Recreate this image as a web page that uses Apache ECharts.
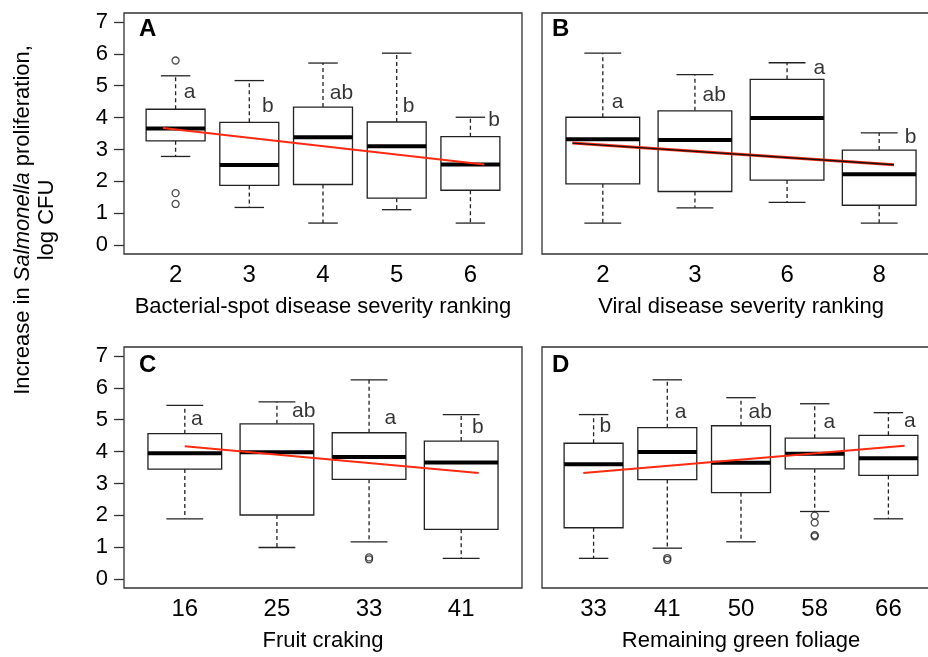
<!DOCTYPE html>
<html>
<head>
<meta charset="utf-8">
<script src="https://cdn.jsdelivr.net/npm/echarts@6/dist/echarts.min.js"></script>
<style>
  html, body { margin: 0; padding: 0; background: #fff; }
  #plot { width: 928px; height: 657px; }
</style>
</head>
<body>
<div id="plot"></div>
<script>
var myPlot = echarts.init(document.getElementById('plot'));

// each box: [lower whisker, Q1, median, Q3, upper whisker]
var catsA = ['2', '3', '4', '5', '6'];
var boxesA = [
  [2.78, 3.27, 3.66, 4.26, 5.31],
  [1.18, 1.87, 2.51, 3.85, 5.16],
  [0.69, 1.90, 3.38, 4.33, 5.71],
  [1.11, 1.47, 3.10, 3.86, 6.02],
  [0.69, 1.72, 2.53, 3.40, 4.01]
];
var outliersA = [[1, 5.79], [1, 1.63], [1, 1.29]];
var trendA = [[0.83, 3.67], [5.19, 2.53]];
var lettersA = ['a', 'b', 'ab', 'b', 'b'];
var letterAtA = [[1.19, 4.79], [2.25, 4.35], [3.25, 4.76], [4.16, 4.35], [5.32, 3.91]];

var catsB = ['2', '3', '6', '8'];
var boxesB = [
  [0.69, 1.92, 3.32, 4.01, 6.02],
  [1.17, 1.68, 3.30, 4.21, 5.35],
  [1.34, 2.04, 3.99, 5.20, 5.72],
  [0.69, 1.25, 2.22, 2.98, 3.52]
];
var outliersB = [];
var trendB = [[0.67, 3.20], [4.16, 2.52]];
var lettersB = ['a', 'ab', 'a', 'b'];
var letterAtB = [[1.16, 4.47], [2.21, 4.71], [3.35, 5.55], [4.34, 3.38]];

var catsC = ['16', '25', '33', '41'];
var boxesC = [
  [1.89, 3.45, 3.95, 4.56, 5.45],
  [0.99, 2.01, 3.98, 4.87, 5.56],
  [1.17, 3.13, 3.83, 4.59, 6.25],
  [0.65, 1.56, 3.66, 4.33, 5.16]
];
var outliersC = [[3, 0.62], [3, 0.68]];
var trendC = [[1.0, 4.17], [4.19, 3.33]];
var lettersC = ['a', 'ab', 'a', 'b'];
var letterAtC = [[1.13, 5.03], [2.29, 5.27], [3.23, 5.06], [4.18, 4.75]];

var catsD = ['33', '41', '50', '58', '66'];
var boxesD = [
  [0.65, 1.61, 3.60, 4.26, 5.16],
  [0.97, 3.12, 3.99, 4.75, 6.25],
  [1.17, 2.71, 3.65, 4.81, 5.69],
  [2.12, 3.46, 3.93, 4.42, 5.50],
  [1.89, 3.25, 3.79, 4.51, 5.22]
];
var outliersD = [[2, 0.60], [2, 0.66], [4, 1.99], [4, 1.77], [4, 1.38], [4, 1.34]];
var trendD = [[0.86, 3.33], [5.22, 4.18]];
var lettersD = ['b', 'a', 'ab', 'a', 'a'];
var letterAtD = [[1.16, 4.78], [2.18, 5.24], [3.26, 5.24], [4.20, 4.91], [5.29, 4.96]];

var yTicks = [0, 1, 2, 3, 4, 5, 6, 7];
var FONT = 'Liberation Sans, Arial, sans-serif';

var panels = [
  { cats: catsA, boxes: boxesA, out: outliersA, trend: trendA, letters: lettersA, at: letterAtA,
    name: 'Bacterial-spot disease severity ranking', left: 124, top: 13, yLabels: true },
  { cats: catsB, boxes: boxesB, out: outliersB, trend: trendB, letters: lettersB, at: letterAtB,
    name: 'Viral disease severity ranking', left: 542, top: 13, yLabels: false, blackTrend: true },
  { cats: catsC, boxes: boxesC, out: outliersC, trend: trendC, letters: lettersC, at: letterAtC,
    name: 'Fruit craking', left: 124, top: 347, yLabels: true },
  { cats: catsD, boxes: boxesD, out: outliersD, trend: trendD, letters: lettersD, at: letterAtD,
    name: 'Remaining green foliage', left: 542, top: 347, yLabels: false }
];

function renderBox(params, api) {
  var x = api.value(0);
  var lo = api.coord([x, api.value(1)]);
  var q1 = api.coord([x, api.value(2)]);
  var md = api.coord([x, api.value(3)]);
  var q3 = api.coord([x, api.value(4)]);
  var hi = api.coord([x, api.value(5)]);
  var half = api.size([0.4, 0])[0];
  var cap = api.size([0.2, 0])[0];
  var cx = lo[0];
  var thin = { stroke: '#222', lineWidth: 1.3 };
  var dash = { stroke: '#222', lineWidth: 1.3, lineDash: [4, 3] };
  return {
    type: 'group',
    children: [
      { type: 'line', shape: { x1: cx, y1: q3[1], x2: cx, y2: hi[1] }, style: dash },
      { type: 'line', shape: { x1: cx, y1: q1[1], x2: cx, y2: lo[1] }, style: dash },
      { type: 'line', shape: { x1: cx - cap, y1: hi[1], x2: cx + cap, y2: hi[1] }, style: thin },
      { type: 'line', shape: { x1: cx - cap, y1: lo[1], x2: cx + cap, y2: lo[1] }, style: thin },
      { type: 'rect', shape: { x: cx - half, y: q3[1], width: 2 * half, height: q1[1] - q3[1] },
        style: { fill: '#fff', stroke: '#222', lineWidth: 1.3 } },
      { type: 'line', shape: { x1: cx - half, y1: md[1], x2: cx + half, y2: md[1] },
        style: { stroke: '#000', lineWidth: 4 } }
    ]
  };
}

var grids = [], xAxes = [], yAxes = [], series = [];
panels.forEach(function (p, i) {
  var n = p.cats.length;
  var pad = n * 0.04;   // R-style 4% axis extension around 0.5 .. n+0.5
  grids.push({ left: p.left, top: p.top, width: 398, height: 241, show: true,
    borderColor: '#333', borderWidth: 1.3, backgroundColor: '#fff',
    containLabel: false, outerBoundsMode: 'none' });
  xAxes.push({
    type: 'value', gridIndex: i, min: 0.5 - pad, max: n + 0.5 + pad,
    axisLine: { show: false }, axisTick: { show: false }, splitLine: { show: false },
    axisLabel: {
      customValues: p.cats.map(function (c, k) { return k + 1; }),
      formatter: function (v) { return p.cats[Math.round(v) - 1]; },
      fontSize: 24, color: '#000', margin: 9, fontFamily: FONT
    },
    name: p.name, nameLocation: 'middle', nameGap: 42,
    nameTextStyle: { fontSize: 22, color: '#000', fontFamily: FONT }
  });
  yAxes.push({
    type: 'value', gridIndex: i, min: -0.28, max: 7.28,
    axisLine: { show: false }, splitLine: { show: false },
    axisTick: { show: p.yLabels, customValues: yTicks, length: 10, lineStyle: { color: '#333', width: 1.3 } },
    axisLabel: { show: p.yLabels, customValues: yTicks, fontSize: 22, color: '#000', margin: 16, fontFamily: FONT }
  });
  series.push({
    type: 'custom', xAxisIndex: i, yAxisIndex: i, renderItem: renderBox, silent: true,
    data: p.boxes.map(function (b, k) { return [k + 1].concat(b); }), z: 2
  });
  series.push({
    type: 'scatter', xAxisIndex: i, yAxisIndex: i, symbol: 'circle', symbolSize: 7, silent: true,
    itemStyle: { color: 'rgba(0,0,0,0)', borderColor: '#222', borderWidth: 1.3 },
    data: p.out, z: 3
  });
  series.push({
    type: 'line', xAxisIndex: i, yAxisIndex: i, showSymbol: false, silent: true,
    lineStyle: { color: '#ff2a10', width: p.blackTrend ? 3 : 2 }, data: p.trend, z: 4
  });
  if (p.blackTrend) {
    series.push({
      type: 'line', xAxisIndex: i, yAxisIndex: i, showSymbol: false, silent: true,
      lineStyle: { color: '#111', width: 1.3 }, data: p.trend, z: 5
    });
  }
  series.push({
    type: 'scatter', xAxisIndex: i, yAxisIndex: i, symbolSize: 1, silent: true,
    itemStyle: { color: 'rgba(0,0,0,0)' },
    label: { show: true, position: 'inside', formatter: '{b}', fontSize: 21, color: '#000', fontFamily: FONT },
    data: p.at.map(function (pt, k) { return { name: p.letters[k], value: pt }; }), z: 6
  });
});

var option = {
  animation: false,
  backgroundColor: '#fff',
  grid: grids,
  xAxis: xAxes,
  yAxis: yAxes,
  series: series,
  graphic: [
    { type: 'text', left: 139, top: 17, z: 10, style: { text: 'A', font: 'bold 24px ' + FONT, fill: '#000' } },
    { type: 'text', left: 552, top: 17, z: 10, style: { text: 'B', font: 'bold 24px ' + FONT, fill: '#000' } },
    { type: 'text', left: 139, top: 353, z: 10, style: { text: 'C', font: 'bold 24px ' + FONT, fill: '#000' } },
    { type: 'text', left: 552, top: 353, z: 10, style: { text: 'D', font: 'bold 24px ' + FONT, fill: '#000' } },
    {
      type: 'text', x: 35, y: 220, rotation: Math.PI / 2, z: 10,
      style: {
        text: '{n|Increase in }{i|Salmonella}{n| proliferation,}\n{n|log CFU}',
        align: 'center', verticalAlign: 'middle', fill: '#000',
        rich: {
          n: { fontSize: 22, fontFamily: FONT, lineHeight: 24, fill: '#000' },
          i: { fontSize: 22, fontFamily: FONT, fontStyle: 'italic', lineHeight: 24, fill: '#000' }
        }
      }
    }
  ]
};

option && myPlot.setOption(option);
</script>
</body>
</html>
